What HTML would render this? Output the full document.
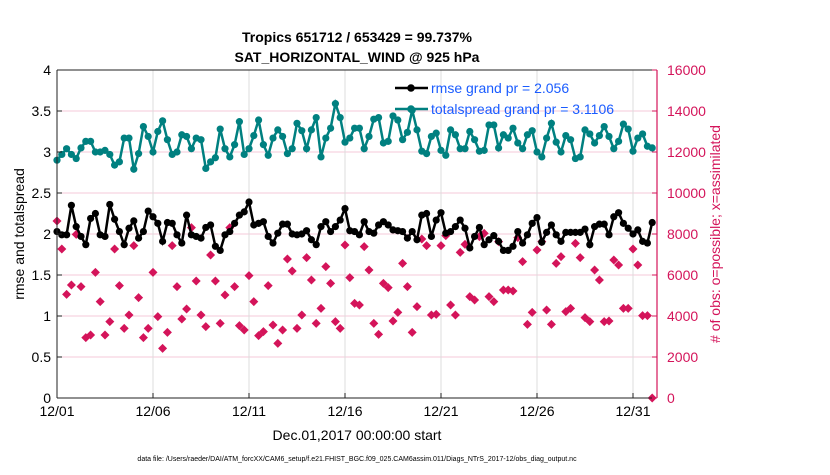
<!DOCTYPE html>
<html><head><meta charset="utf-8"><style>
body{margin:0;background:#fff;width:830px;height:470px;overflow:hidden}
svg{font-family:"Liberation Sans",sans-serif}
</style></head><body>
<svg id="chart" width="830" height="470">
<text x="357" y="42" text-anchor="middle" font-size="14" font-weight="bold">Tropics 651712 / 653429 = 99.737%</text>
<text x="357" y="62" text-anchor="middle" font-size="14" font-weight="bold">SAT_HORIZONTAL_WIND @ 925 hPa</text>
<g id="grid"></g><g id="series"></g><g id="axes"></g>
<text x="357" y="440" text-anchor="middle" font-size="14">Dec.01,2017 00:00:00 start</text>
<text x="357" y="461" text-anchor="middle" font-size="7">data file: /Users/raeder/DAI/ATM_forcXX/CAM6_setup/f.e21.FHIST_BGC.f09_025.CAM6assim.011/Diags_NTrS_2017-12/obs_diag_output.nc</text>
<text transform="translate(24,234) rotate(-90)" text-anchor="middle" font-size="14">rmse and totalspread</text>
<text transform="translate(720,234) rotate(-90)" text-anchor="middle" font-size="14" fill="#d4145a"># of obs: o=possible; x=assimilated</text>
<g>
<line x1="395" y1="88" x2="428" y2="88" stroke="#000" stroke-width="2.5"/><circle cx="411" cy="88" r="3.8" fill="#000"/>
<text x="431" y="93" font-size="14" fill="#1a5cff">rmse grand pr = 2.056</text>
<line x1="395" y1="109" x2="428" y2="109" stroke="#008080" stroke-width="2.5"/><circle cx="411" cy="109" r="3.8" fill="#008080"/>
<text x="431" y="114" font-size="14" fill="#1a5cff">totalspread grand pr = 3.1106</text>
</g>
</svg>
<script>
const tickDays=[0,5,10,15,20,25,30];
const tickLabels=["12/01","12/06","12/11","12/16","12/21","12/26","12/31"];
const leftTicks=[0,0.5,1,1.5,2,2.5,3,3.5,4];
const rightTicks=[0,2000,4000,6000,8000,10000,12000,14000,16000];
const rmse=[2.03,1.99,1.99,2.35,2.09,1.97,1.87,2.19,2.25,1.99,1.97,2.36,2.18,2.03,1.87,2.07,2.16,1.95,2.03,2.28,2.21,2.13,1.91,2.14,2.13,1.99,1.89,2.23,1.99,1.97,1.95,2.08,
2.11,1.85,1.80,1.99,2.03,2.13,2.23,2.27,2.39,2.11,2.13,2.15,1.97,1.89,2.01,2.12,2.12,2.00,1.99,2.00,2.04,1.93,1.87,2.09,2.15,2.03,2.09,2.17,2.31,2.04,2.03,
1.99,2.15,2.03,2.01,2.11,2.15,2.11,2.05,2.04,2.03,1.95,2.03,1.93,2.23,2.25,1.97,2.17,2.26,2.01,2.03,2.09,2.17,2.07,1.83,1.97,2.08,1.87,1.93,1.98,1.91,1.80,
1.80,1.85,2.03,1.89,1.99,2.13,2.20,1.90,2.02,2.11,1.99,1.91,2.02,2.02,2.02,2.02,2.06,1.87,2.09,2.12,2.12,1.99,2.21,2.26,2.13,2.07,2.00,2.05,1.91,1.89,2.14];
const spread=[2.90,2.97,3.04,2.97,2.92,3.05,3.13,3.13,3.00,3.00,3.02,2.97,2.84,2.88,3.17,3.17,2.79,2.98,3.31,3.19,3.00,3.25,3.38,3.15,2.97,3.00,3.21,3.19,3.04,3.17,3.15,2.80,
2.88,2.93,3.28,3.04,2.94,3.09,3.37,2.97,3.04,3.20,3.39,3.09,2.96,3.17,3.27,3.19,2.98,3.04,3.35,3.26,3.04,3.27,3.42,2.94,3.17,3.29,3.59,3.42,3.12,3.17,3.29,
3.29,3.04,3.19,3.40,3.42,3.11,3.13,3.44,3.39,3.15,3.24,3.51,3.27,3.01,2.98,3.19,3.23,3.02,2.96,3.27,3.21,3.04,3.04,3.25,3.15,3.01,3.02,3.33,3.33,3.05,3.21,
3.17,3.29,3.11,3.04,3.21,3.26,3.00,2.94,3.17,3.35,3.12,3.00,3.20,3.15,2.92,2.94,3.27,3.22,3.11,3.20,3.31,3.19,3.04,3.13,3.34,3.28,3.01,3.17,3.22,3.07,3.05];
const nobs=[8634,7268,5057,5512,7984,5431,2943,3073,6130,4699,3073,3724,7268,5480,3398,4049,7431,4894,2943,3398,6130,3968,2423,3203,7431,5431,3854,4342,8309,5707,4049,3480,
6976,5707,3642,5024,8309,5431,3529,3317,5967,4699,3041,3236,5480,3561,2667,3317,6780,6195,3398,4049,6846,5756,3642,4374,6406,5593,3724,3398,7463,5870,4618,
4537,7382,6244,3642,3106,5593,5382,3756,4179,6569,5431,3203,4456,7756,7431,4049,4081,7431,7919,4537,4049,7106,7496,4943,4781,7870,8032,4943,4699,7626,5268,
5268,5219,7821,6650,3593,4179,7220,7626,4293,3593,6569,6894,4211,4374,7545,6846,3919,3724,6244,5756,3724,3756,6732,6487,4374,4374,7268,6487,4016,4016,0];
const X0=57,X1=657,Y0=398,Y1=70,DMAX=31.25;
const xs=d=>X0+d/DMAX*(X1-X0);
const yL=v=>Y0-v/4*(Y0-Y1);
const yR=v=>Y0-v/16000*(Y0-Y1);
const NS="http://www.w3.org/2000/svg";
function mk(tag,attrs,parent){const e=document.createElementNS(NS,tag);for(const k in attrs)e.setAttribute(k,attrs[k]);parent.appendChild(e);return e;}
const grid=document.getElementById('grid'),ser=document.getElementById('series'),ax=document.getElementById('axes');
mk('rect',{x:X0,y:Y1,width:X1-X0,height:Y0-Y1,fill:'#fff'},grid);
leftTicks.forEach(v=>{const l=mk('line',{x1:X0,x2:X1,y1:yL(v),y2:yL(v),stroke:'#f4c9d8','stroke-width':1},grid);

});
tickDays.forEach(d=>{const l=mk('line',{x1:xs(d),x2:xs(d),y1:Y1,y2:Y0,stroke:'#dcdcdc','stroke-width':1},grid);

});
nobs.forEach((v,i)=>{const x=xs(i*0.25),y=yR(v);
const p=mk('path',{d:`M${x-4.5},${y}L${x},${y-4.5}L${x+4.5},${y}L${x},${y+4.5}Z`,fill:'#d4145a'},ser);

});
function line(arr,color,name){
const pts=arr.map((v,i)=>xs(i*0.25)+','+yL(v)).join(' ');
const pl=mk('polyline',{points:pts,fill:'none',stroke:color,'stroke-width':2.5},ser);


arr.forEach((v,i)=>{const c=mk('circle',{cx:xs(i*0.25),cy:yL(v),r:3.6,fill:color},ser);

});}
line(spread,'#008080','totalspread');
line(rmse,'#000','rmse');
mk('line',{x1:X0,x2:X0,y1:Y1,y2:Y0,stroke:'#222','stroke-width':1},ax);
mk('line',{x1:X0,x2:X1,y1:Y0,y2:Y0,stroke:'#222','stroke-width':1},ax);
mk('line',{x1:X0,x2:X1,y1:Y1,y2:Y1,stroke:'#222','stroke-width':1},ax);
mk('line',{x1:X1,x2:X1,y1:Y1,y2:Y0,stroke:'#d4145a','stroke-width':1.2},ax);
leftTicks.forEach(v=>{mk('line',{x1:X0,x2:X0+5,y1:yL(v),y2:yL(v),stroke:'#222'},ax);
const t=mk('text',{x:X0-6,y:yL(v)+5,'text-anchor':'end','font-size':14},ax);t.textContent=v;

});
rightTicks.forEach(v=>{mk('line',{x1:X1-5,x2:X1,y1:yR(v),y2:yR(v),stroke:'#d4145a'},ax);
const t=mk('text',{x:X1+10,y:yR(v)+5,'font-size':14,fill:'#d4145a'},ax);t.textContent=v;

});
tickDays.forEach((d,i)=>{mk('line',{x1:xs(d),x2:xs(d),y1:Y0,y2:Y0-5,stroke:'#222'},ax);
const t=mk('text',{x:xs(d),y:Y0+18,'text-anchor':'middle','font-size':14},ax);t.textContent=tickLabels[i];

});
</script>
</body></html>
